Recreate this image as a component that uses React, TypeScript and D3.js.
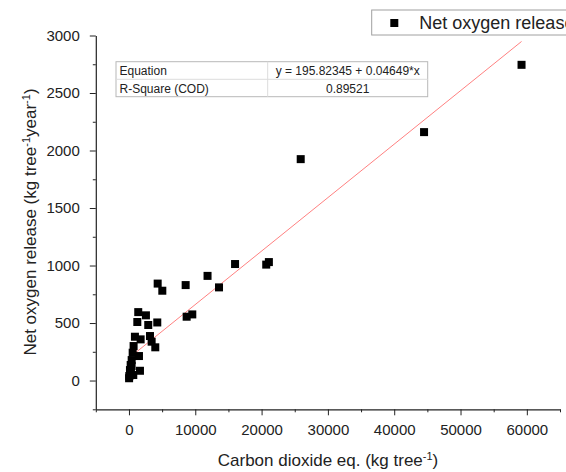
import React, { useEffect, useRef } from "react";
import * as d3 from "d3";

const co2 = [20, 50, 650, 150, 1660, 400, 260, 410, 1510, 560, 900, 1760, 3170, 3420, 3970, 1260, 2910, 4270, 1400, 2560, 4330, 5030, 8550, 8700, 9550, 11850, 13580, 16000, 20700, 21100, 25900, 44500, 59200, 300, 700];
const o2 = [20, 39, 48, 91, 85, 126, 135, 178, 213, 242, 381, 358, 387, 338, 289, 509, 483, 505, 595, 567, 843, 781, 830, 555, 575, 910, 810, 1013, 1008, 1030, 1925, 2160, 2745, 70, 300];

const xTicks = [0, 10000, 20000, 30000, 40000, 50000, 60000];
const xMinor = [-5000, 5000, 15000, 25000, 35000, 45000, 55000, 65000];
const yTicks = [0, 500, 1000, 1500, 2000, 2500, 3000];
const yMinor = [-250, 250, 750, 1250, 1750, 2250, 2750];

const intercept = 195.82345;
const slope = 0.04649;
const equationText = "y = 195.82345 + 0.04649*x";
const r2Text = "0.89521";
const seriesName = "Net oxygen release";

const FONT = "'Liberation Sans', Arial, Helvetica, sans-serif";

export default function App() {
  const xRef = useRef<SVGGElement>(null);
  const yRef = useRef<SVGGElement>(null);
  const xmRef = useRef<SVGGElement>(null);
  const ymRef = useRef<SVGGElement>(null);

  const W = 566, H = 472;
  const x = d3.scaleLinear().domain([-5000, 65000]).range([95.8, 560]);
  const y = d3.scaleLinear().domain([-250, 3000]).range([409.3, 35.5]);

  useEffect(() => {
    const gx = d3.select(xRef.current!);
    gx.call(d3.axisBottom(x).tickValues(xTicks).tickSize(6).tickSizeOuter(0).tickPadding(9).tickFormat(d3.format("d")) as any);
    gx.attr("font-size", 15).attr("font-family", FONT);
    gx.selectAll("text").attr("fill", "#222");
    gx.selectAll("line").attr("stroke", "#222");
    gx.select(".domain").attr("stroke", "#222").attr("stroke-width", 1.2);

    const gy = d3.select(yRef.current!);
    gy.call(d3.axisLeft(y).tickValues(yTicks).tickSize(6).tickSizeOuter(0).tickPadding(10).tickFormat(d3.format("d")) as any);
    gy.attr("font-size", 15).attr("font-family", FONT);
    gy.selectAll("text").attr("fill", "#222");
    gy.selectAll("line").attr("stroke", "#222");
    gy.select(".domain").attr("stroke", "#222").attr("stroke-width", 1.2);

    const gxm = d3.select(xmRef.current!);
    gxm.call(d3.axisBottom(x).tickValues(xMinor).tickSize(3).tickFormat(() => "") as any);
    gxm.select(".domain").remove();
    gxm.selectAll("line").attr("stroke", "#222");

    const gym = d3.select(ymRef.current!);
    gym.call(d3.axisLeft(y).tickValues(yMinor).tickSize(3).tickFormat(() => "") as any);
    gym.select(".domain").remove();
    gym.selectAll("line").attr("stroke", "#222");
  }, []);

  const xMin = d3.min(co2)!;
  const xMax = d3.max(co2)!;
  const fit = (v: number) => intercept + slope * v;
  const lineGen = d3.line<number>().x((d) => x(d)).y((d) => y(fit(d)));
  const ms = 8;

  return (
    <svg width={W} height={H} style={{ position: "absolute", left: 0, top: 0, background: "#fff" }} fontFamily={FONT}>
      <rect x={0} y={0} width={W} height={H} fill="#fff" />
      {/* regression line */}
      <path d={lineGen([xMin, xMax]) || ""} stroke="#ff8080" strokeWidth={1} fill="none" />
      {/* points */}
      {co2.map((c, i) => (
        <rect key={i} x={x(c) - ms / 2} y={y(o2[i]) - ms / 2} width={ms} height={ms} fill="#000" />
      ))}
      {/* axes */}
      <g ref={xmRef} transform={`translate(0,${y(-250)})`} />
      <g ref={ymRef} transform={`translate(${x(-5000)},0)`} />
      <g ref={xRef} transform={`translate(0,${y(-250)})`} />
      <g ref={yRef} transform={`translate(${x(-5000)},0)`} />

      {/* axis titles */}
      <text x={328} y={466} textAnchor="middle" fontSize={17} fill="#222">
        Carbon dioxide eq. (kg tree<tspan dy={-6} fontSize={11}>-1</tspan><tspan dy={6}>)</tspan>
      </text>
      <text transform="translate(36,222) rotate(-90)" textAnchor="middle" fontSize={17} fill="#222">
        Net oxygen release (kg tree<tspan dy={-6} fontSize={11}>-1</tspan><tspan dy={6}>year</tspan><tspan dy={-6} fontSize={11}>-1</tspan><tspan dy={6}>)</tspan>
      </text>

      {/* stats table */}
      <g fontSize={12} fill="#222">
        <rect x={116} y={61.7} width={311.7} height={35} fill="#fff" stroke="#b8b8b8" strokeWidth={1} />
        <line x1={116} x2={427.7} y1={79.3} y2={79.3} stroke="#dcdcdc" />
        <line x1={267.7} x2={267.7} y1={61.7} y2={96.7} stroke="#dcdcdc" />
        <text x={119.5} y={75}>Equation</text>
        <text x={119.5} y={92.5}>R-Square (COD)</text>
        <text x={347.7} y={75} textAnchor="middle">{equationText}</text>
        <text x={347.7} y={92.5} textAnchor="middle">{r2Text}</text>
      </g>

      {/* legend */}
      <g>
        <rect x={371.7} y={10} width={220} height={25} fill="#fff" stroke="#a0a0a0" strokeWidth={1} />
        <rect x={394.3 - ms / 2} y={23 - ms / 2} width={ms} height={ms} fill="#000" />
        <text x={419.3} y={29} fontSize={18} fill="#222">{seriesName}</text>
      </g>
    </svg>
  );
}
